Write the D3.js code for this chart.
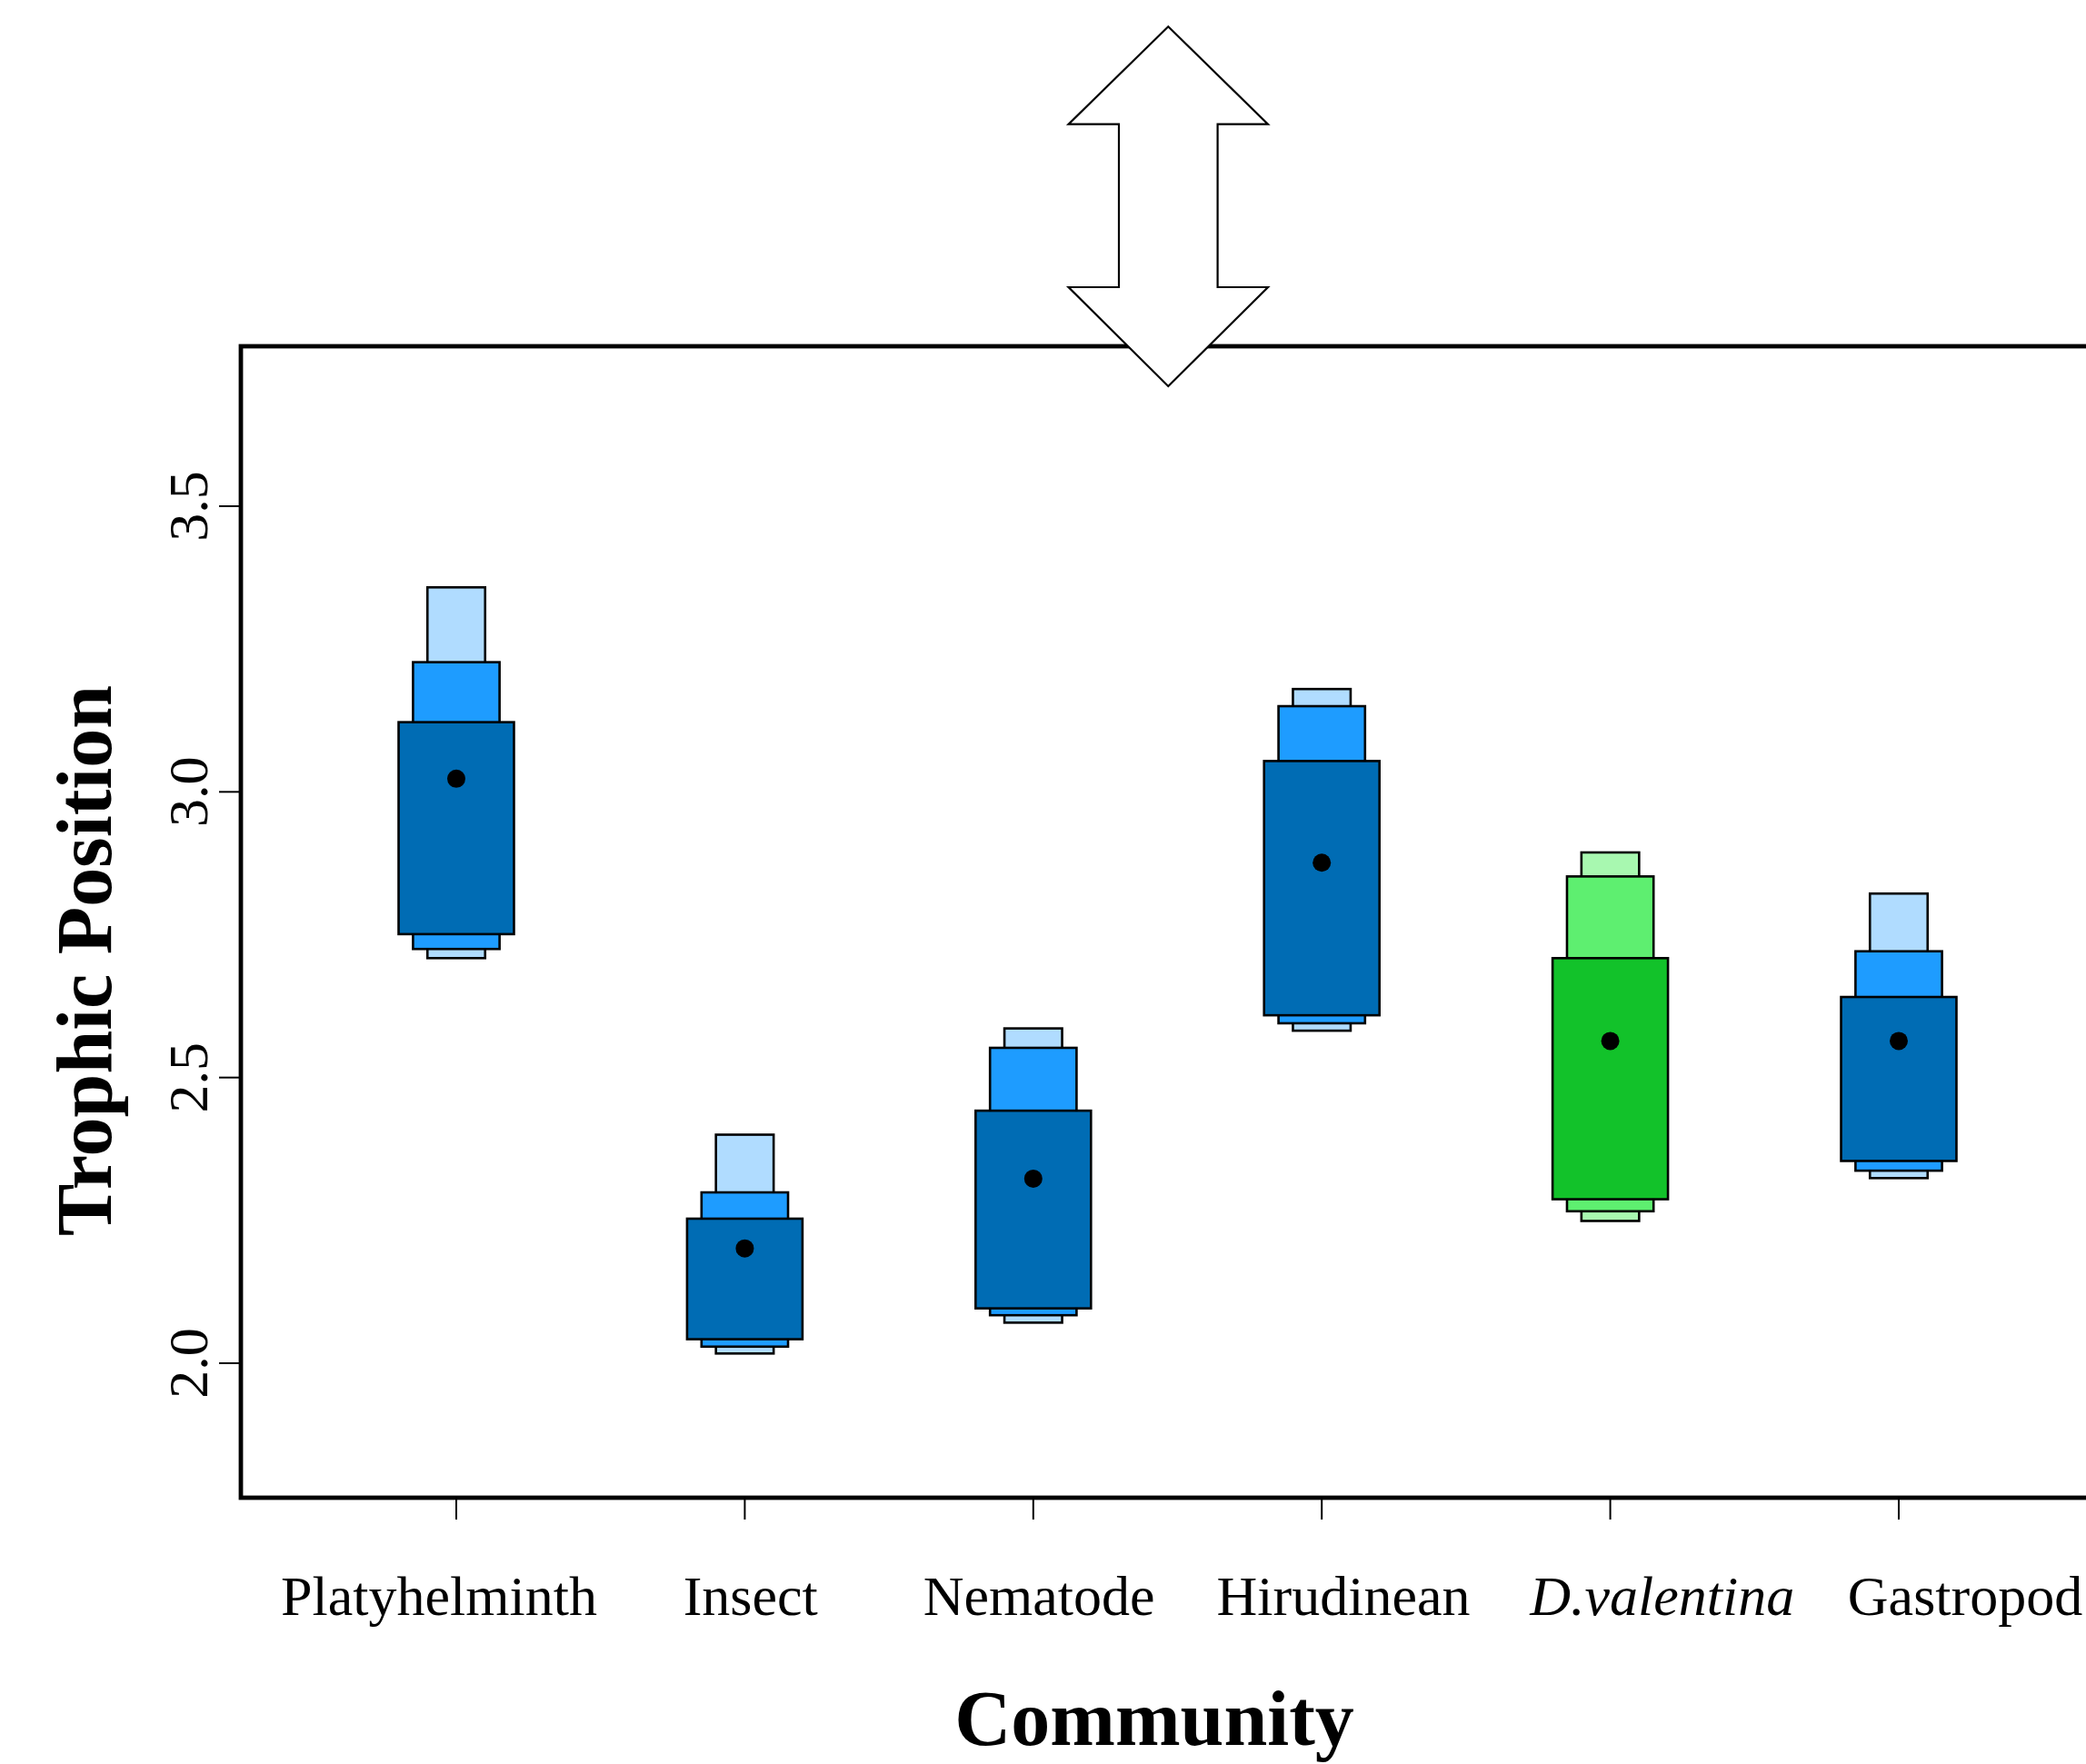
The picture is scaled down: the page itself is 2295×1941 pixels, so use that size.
<!DOCTYPE html>
<html>
<head>
<meta charset="utf-8">
<script src="https://cdn.jsdelivr.net/npm/d3@7"></script>
<style>
  html, body { margin: 0; padding: 0; background: #fff; }
  svg { display: block; }
</style>
</head>
<body>
<svg id="chart" width="2295" height="1941"></svg>
<script>
// Trophic position credible intervals per community (50%, 75%, 95%) and modes
const categories = ["Platyhelminth", "Insect", "Nematode", "Hirudinean", "D.valentina", "Gastropod"];
const italicCats = ["D.valentina"];
const labelPos = [0.94, 2.02, 3.02, 4.075, 5.18, 6.23];
const modes = [3.023, 2.201, 2.323, 2.876, 2.564, 2.564];
const ci95 = [[2.709, 3.358], [2.017, 2.400], [2.071, 2.586], [2.582, 3.180], [2.249, 2.894], [2.324, 2.822]];
const ci75 = [[2.725, 3.227], [2.029, 2.299], [2.084, 2.552], [2.595, 3.150], [2.266, 2.852], [2.337, 2.721]];
const ci50 = [[2.751, 3.122], [2.042, 2.253], [2.096, 2.442], [2.609, 3.054], [2.287, 2.709], [2.354, 2.641]];
const yTicks = [2.0, 2.5, 3.0, 3.5];
const xLabel = "Community";
const yLabel = "Trophic Position";

const bluePal = { p95: "#b0dcff", p75: "#1e9cff", p50: "#006cb4" };
const greenPal = { p95: "#a8f8b0", p75: "#5eef70", p50: "#12c22a" };

const svg = d3.select("#chart");
const FONT = "'Liberation Serif', 'Times New Roman', serif";

const frame = { left: 265, top: 381, bottom: 1648, right: 2400 };

const x = d3.scaleLinear().domain([1, 6]).range([502, 2089]);
const y = d3.scaleLinear().domain([2.0, 3.5]).range([1500, 557]);
const unit = x(2) - x(1);

// interval boxes, widest for the 50% interval
const layers = [
  { data: ci95, w: 0.2, key: "p95" },
  { data: ci75, w: 0.3, key: "p75" },
  { data: ci50, w: 0.4, key: "p50" }
];
const g = svg.append("g");
layers.forEach(L => {
  g.selectAll(null)
    .data(categories.map((c, i) => ({ i, c, lo: L.data[i][0], hi: L.data[i][1] })))
    .enter().append("rect")
    .attr("x", d => x(d.i + 1) - L.w * unit / 2)
    .attr("width", L.w * unit)
    .attr("y", d => y(d.hi))
    .attr("height", d => y(d.lo) - y(d.hi))
    .attr("fill", d => (italicCats.includes(d.c) ? greenPal : bluePal)[L.key])
    .attr("stroke", "#000")
    .attr("stroke-width", 2.6);
});

g.selectAll(null)
  .data(modes)
  .enter().append("circle")
  .attr("cx", (d, i) => x(i + 1))
  .attr("cy", d => y(d))
  .attr("r", 10)
  .attr("fill", "#000");

// frame
svg.append("rect")
  .attr("x", frame.left).attr("y", frame.top)
  .attr("width", frame.right - frame.left).attr("height", frame.bottom - frame.top)
  .attr("fill", "none").attr("stroke", "#000").attr("stroke-width", 4.8);

// y axis
const yAxis = svg.append("g");
yAxis.selectAll(null).data(yTicks).enter().append("line")
  .attr("x1", frame.left - 24).attr("x2", frame.left)
  .attr("y1", d => y(d)).attr("y2", d => y(d))
  .attr("stroke", "#000").attr("stroke-width", 2);
yAxis.selectAll(null).data(yTicks).enter().append("text")
  .attr("transform", d => `translate(228,${y(d)}) rotate(-90)`)
  .attr("text-anchor", "middle")
  .attr("font-family", FONT).attr("font-size", 62)
  .text(d => d.toFixed(1));

// x axis
const xAxis = svg.append("g");
xAxis.selectAll(null).data(categories).enter().append("line")
  .attr("x1", (d, i) => x(i + 1)).attr("x2", (d, i) => x(i + 1))
  .attr("y1", frame.bottom).attr("y2", frame.bottom + 24)
  .attr("stroke", "#000").attr("stroke-width", 2);
xAxis.selectAll(null).data(categories).enter().append("text")
  .attr("x", (d, i) => x(labelPos[i]))
  .attr("y", 1777)
  .attr("text-anchor", "middle")
  .attr("font-family", FONT).attr("font-size", 62)
  .attr("font-style", d => italicCats.includes(d) ? "italic" : "normal")
  .text(d => d);

// axis titles
svg.append("text")
  .attr("x", 1270).attr("y", 1920)
  .attr("text-anchor", "middle")
  .attr("font-family", FONT).attr("font-size", 86).attr("font-weight", "bold")
  .text(xLabel);
svg.append("text")
  .attr("transform", "translate(122,1057) rotate(-90)")
  .attr("text-anchor", "middle")
  .attr("font-family", FONT).attr("font-size", 86).attr("font-weight", "bold")
  .text(yLabel);

// double-headed arrow above the frame
const cx = 1285.3, headHalf = 109.7, shaftHalf = 54.3;
const tipTop = 29.3, headTop = 136.7, headBot = 316, tipBot = 425;
const arrow = [
  [cx, tipTop], [cx + headHalf, headTop], [cx + shaftHalf, headTop],
  [cx + shaftHalf, headBot], [cx + headHalf, headBot], [cx, tipBot],
  [cx - headHalf, headBot], [cx - shaftHalf, headBot], [cx - shaftHalf, headTop],
  [cx - headHalf, headTop]
];
svg.append("path")
  .attr("d", d3.line()(arrow) + "Z")
  .attr("fill", "#fff").attr("stroke", "#000").attr("stroke-width", 2.2)
  .attr("stroke-linejoin", "miter");
</script>
</body>
</html>
